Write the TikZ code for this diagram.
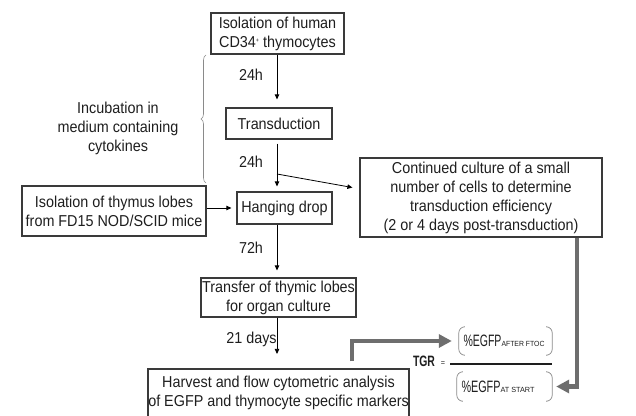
\documentclass[tikz,border=0pt]{standalone}
\usepackage{fontspec}
\usepackage{graphicx}
\setmainfont{Liberation Sans}[FakeStretch=0.91]
\usetikzlibrary{arrows.meta,decorations.pathreplacing}
\definecolor{boxc}{HTML}{3A3A3A}
\definecolor{txtc}{HTML}{1E1E1E}
\definecolor{grayarr}{HTML}{6E6E6E}
\definecolor{bracec}{HTML}{8A8A8A}
\begin{document}
\begin{tikzpicture}[x=1pt,y=-1pt,
  every node/.style={font=\fontsize{15.8}{19}\selectfont, text=txtc, inner sep=0pt, align=center},
  box/.style={draw=boxc, line width=1.2pt},
  arr/.style={draw=black, line width=0.8pt, -{Triangle[length=5pt,width=4.5pt]}},
  bigarr/.style={draw=grayarr, line width=4.8pt, -{Triangle[length=13pt,width=13pt]}},
  paren/.style={draw=bracec, line width=0.7pt, rounded corners=6pt},
  lbl/.style={font=\fontsize{15.8}{19}\selectfont}]
\useasboundingbox (0,0) rectangle (636,415);

% boxes
\node[box, minimum width=133pt, minimum height=41pt] (n1) at (277.5,33.5)
  {Isolation of human\\CD34\raisebox{0.55ex}{\fontsize{6}{6}\selectfont+} thymocytes};
\node[box, minimum width=106pt, minimum height=31pt] (n2) at (279,123.5) {Transduction};
\node[box, minimum width=95pt, minimum height=32pt] (n3) at (284.5,208) {Hanging drop};
\node[box, minimum width=155pt, minimum height=39pt] (n4) at (278.5,297.5)
  {Transfer of thymic lobes\\for organ culture};
\node[box, minimum width=261pt, minimum height=48pt] (n5) at (278.5,393)
  {Harvest and flow cytometric analysis\\of EGFP and thymocyte specific markers};
\node[box, minimum width=184pt, minimum height=50pt] (n6) at (114,211)
  {Isolation of thymus lobes\\from FD15 NOD/SCID mice};
\node[box, minimum width=242pt, minimum height=79pt] (n7) at (481,197.5)
  {Continued culture of a small\\number of cells to determine\\transduction efficiency\\(2 or 4 days post-transduction)};

% incubation note and brace
\node (inc) at (118,128) {Incubation in\\medium containing\\cytokines};
\draw[decorate, decoration={brace, amplitude=5pt}, draw=bracec, line width=0.6pt]
  (206,183) -- (206,55);

% vertical flow
\coordinate (ax) at (277,0);
\draw[arr, shorten >=8pt] (ax |- n1.south) -- (ax |- n2.north);
\draw[arr, shorten <=4pt, shorten >=5pt] (ax |- n2.south) -- (ax |- n3.north);
\draw[arr, shorten >=7pt] (ax |- n3.south) -- (ax |- n4.north);
\draw[arr, shorten >=13pt] (ax |- n4.south) -- ([yshift=1.5pt]ax |- n5.north);

\node[lbl] (t1) at (251,75) {24h};
\node[lbl] (t2) at (251,162) {24h};
\node[lbl] (t3) at (251,248) {72h};
\node[lbl] (t4) at (251.5,339) {21 days};

% branch to continued culture
\coordinate (b1) at (277,174);
\draw[arr] (b1) -- ([xshift=-7pt,yshift=10pt]n7.west);

% thymus lobes to hanging drop
\draw[arr, shorten >=5pt] (n6.east |- n3.west) -- (n3.west);

% formula
\node (tgr) at (424,361) {\resizebox{22pt}{10.5pt}{\bfseries TGR}};
\node[font=\fontsize{8}{8}\selectfont] (eq) at (443,364) {=};
\node[minimum width=93pt, minimum height=28pt] (num) at (505.5,341)
  {\resizebox{38pt}{11.5pt}{\%EGFP}\resizebox{43pt}{5.2pt}{AFTER FTOC}\hspace{3pt}};
\node[minimum width=95pt, minimum height=29pt] (den) at (504.5,386.5)
  {\resizebox{39pt}{11.5pt}{\%EGFP}\resizebox{34pt}{5.2pt}{AT START}\hspace{13pt}};
\coordinate (fl) at (450,364);
\coordinate (fr) at (552,364);
\draw[draw=txtc, line width=1.3pt] (fl) -- (fr);

\draw[paren] ([xshift=5pt]num.north west) -- (num.north west) -- (num.south west) -- ([xshift=5pt]num.south west);
\draw[paren] ([xshift=-5pt]num.north east) -- (num.north east) -- (num.south east) -- ([xshift=-5pt]num.south east);
\draw[paren] ([xshift=5pt]den.north west) -- (den.north west) -- (den.south west) -- ([xshift=5pt]den.south west);
\draw[paren] ([xshift=-5pt]den.north east) -- (den.north east) -- (den.south east) -- ([xshift=-5pt]den.south east);

% gray arrows
\draw[bigarr, shorten >=7pt] ([xshift=73.5pt,yshift=7pt]n5.north) |- (num.west);
\draw[bigarr, shorten >=4pt] ([xshift=96pt]n7.south) |- (den.east);
\end{tikzpicture}
\end{document}
